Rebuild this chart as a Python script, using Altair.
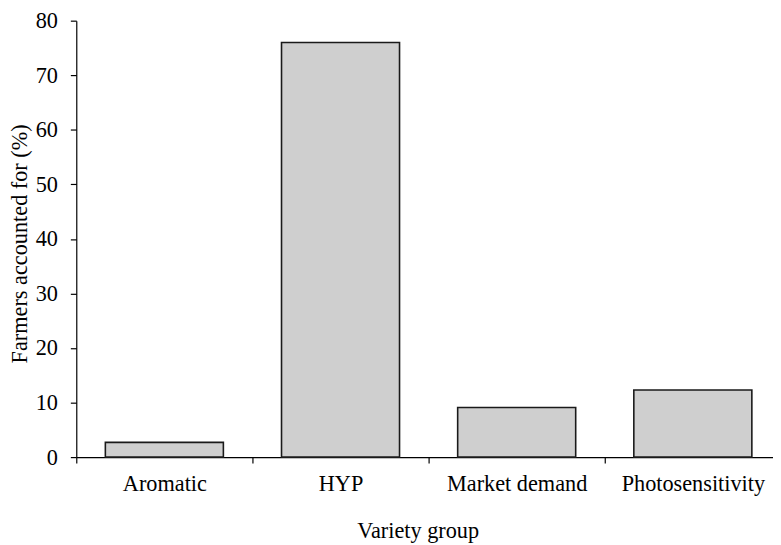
import altair as alt
import pandas as pd

categories = ["Aromatic", "HYP", "Market demand", "Photosensitivity"]
values = [2.7, 76.0, 9.1, 12.3]

df = pd.DataFrame({"group": categories, "pct": values})

FONT = "Liberation Serif, Times New Roman, serif"

chart = (
    alt.Chart(df)
    .mark_bar(fill="#cfcfcf", stroke="#1a1a1a", strokeWidth=1.6)
    .encode(
        x=alt.X(
            "group:N",
            sort=categories,
            title="Variety group",
            scale=alt.Scale(paddingInner=0.33, paddingOuter=0.165, range=[0, 712]),
            axis=alt.Axis(
                labelAngle=0,
                tickOffset=-89,
                labelOffset=89,
                tickSize=6,
                labelBaseline="alphabetic",
                labelPadding=28,
                titleX=345,
                titleY=81,
                titleAlign="center",
                titleBaseline="alphabetic",
            ),
        ),
        y=alt.Y(
            "pct:Q",
            title="Farmers accounted for (%)",
            scale=alt.Scale(domain=[0, 80]),
            axis=alt.Axis(
                values=[0, 10, 20, 30, 40, 50, 60, 70, 80],
                tickSize=6,
                labelPadding=13,
                titleX=-50,
                titleY=225,
                titleAlign="center",
                titleBaseline="alphabetic",
            ),
        ),
    )
    .properties(
        width=704,
        height=441,
        autosize=alt.AutoSizeParams(type="none"),
        padding={"left": 69, "top": 10, "right": 0, "bottom": 86},
    )
    .configure_view(stroke=None)
    .configure_axis(
        labelFont=FONT,
        titleFont=FONT,
        labelFontSize=22.5,
        titleFontSize=22.5,
        titleFontWeight="normal",
        labelColor="black",
        titleColor="black",
        domainColor="black",
        tickColor="black",
        domainWidth=1.2,
        tickWidth=1.2,
        grid=False,
    )
)

chart.save("out.html", embed_options={"renderer": "svg", "actions": False})
